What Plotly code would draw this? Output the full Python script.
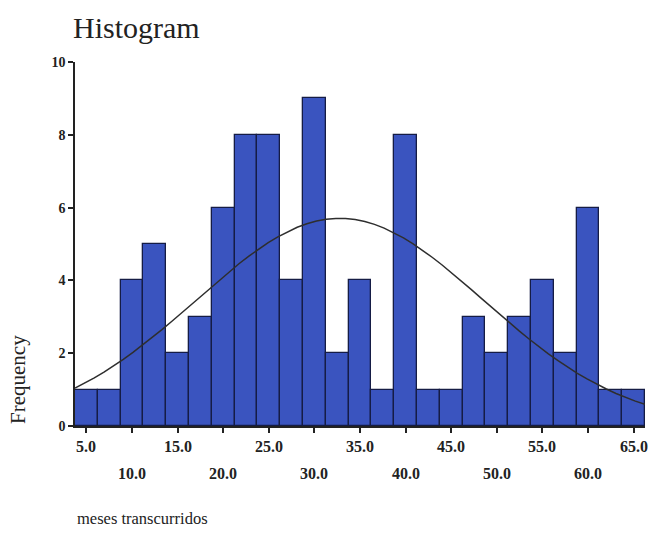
import numpy as np
import plotly.graph_objects as go

# Data
bin_centers = [5.0, 7.5, 10.0, 12.5, 15.0, 17.5, 20.0, 22.5, 25.0, 27.5, 30.0, 32.5,
               35.0, 37.5, 40.0, 42.5, 45.0, 47.5, 50.0, 52.5, 55.0, 57.5, 60.0, 62.5, 65.0]
frequencies = [1, 1, 4, 5, 2, 3, 6, 8, 8, 4, 9, 2,
               4, 1, 8, 1, 1, 3, 2, 3, 4, 2, 6, 1, 1]
bin_width = 2.5
x_ticks_upper = [5.0, 15.0, 25.0, 35.0, 45.0, 55.0, 65.0]
x_ticks_lower = [10.0, 20.0, 30.0, 40.0, 50.0, 60.0]
y_ticks = [0, 2, 4, 6, 8, 10]

# Fitted normal curve (from the histogram's own mean and std)
xc = np.array(bin_centers)
fc = np.array(frequencies)
n = fc.sum()
mean = (xc * fc).sum() / n
sd = np.sqrt((fc * (xc - mean) ** 2).sum() / (n - 1))
xs = np.linspace(xc[0] - bin_width / 2, xc[-1] + bin_width / 2, 60)
ys = n * bin_width / (sd * np.sqrt(2 * np.pi)) * np.exp(-0.5 * ((xs - mean) / sd) ** 2)

FONT = "Liberation Serif, Times New Roman, serif"
TXT = "#222222"

fig = go.Figure()
fig.add_trace(go.Bar(
    x=bin_centers, y=frequencies, width=bin_width,
    marker=dict(color="#3a54bf", line=dict(color="#151c45", width=1.3)),
    showlegend=False, hoverinfo="x+y",
))
fig.add_trace(go.Scatter(
    x=xs, y=ys, mode="lines",
    line=dict(color="#2e2e2e", width=1.5),
    showlegend=False, hoverinfo="skip",
))

x0 = bin_centers[0] - bin_width / 2
x1 = bin_centers[-1] + bin_width / 2

PH = 364  # plot height in px
PW = 570  # plot width in px

fig.update_layout(
    width=652, height=537,
    margin=dict(l=75, r=7, t=62, b=111),
    plot_bgcolor="white", paper_bgcolor="white",
    bargap=0,
    font=dict(family=FONT, color=TXT),
    xaxis=dict(
        range=[x0, x1], showgrid=False, zeroline=False,
        showline=True, linecolor="#222", linewidth=1.5,
        tickmode="array", tickvals=x_ticks_upper + x_ticks_lower,
        ticks="outside", ticklen=5, tickcolor="#222", tickwidth=1.5,
        showticklabels=False,
    ),
    yaxis=dict(
        range=[0, 10], showgrid=False, zeroline=False,
        showline=True, linecolor="#222", linewidth=1.5,
        tickmode="array", tickvals=y_ticks,
        ticktext=[str(v) for v in y_ticks],
        ticks="outside", ticklen=5, tickcolor="#222", tickwidth=1.5,
        tickfont=dict(family=FONT, size=14, color=TXT, weight="bold"),
    ),
)

annotations = []
for v in x_ticks_upper:
    annotations.append(dict(
        x=v, y=-20 / PH, xref="x", yref="paper", text=f"{v:.1f}",
        showarrow=False, xanchor="center", yanchor="middle",
        font=dict(family=FONT, size=16, color=TXT, weight="bold"),
    ))
for v in x_ticks_lower:
    annotations.append(dict(
        x=v, y=-47 / PH, xref="x", yref="paper", text=f"{v:.1f}",
        showarrow=False, xanchor="center", yanchor="middle",
        font=dict(family=FONT, size=16, color=TXT, weight="bold"),
    ))
# Title
annotations.append(dict(
    x=-4 / PW, y=1.0 + 34 / PH, xref="paper", yref="paper", text="Histogram",
    showarrow=False, xanchor="left", yanchor="middle",
    font=dict(family=FONT, size=30, color=TXT),
))
# Y axis title
annotations.append(dict(
    x=-57 / PW, y=(426 - 380) / PH, xref="paper", yref="paper", text="Frequency",
    showarrow=False, xanchor="center", yanchor="middle", textangle=-90,
    font=dict(family=FONT, size=21, color=TXT),
))
# X axis title
annotations.append(dict(
    x=0.0, y=-(518 - 426) / PH, xref="paper", yref="paper", text="meses transcurridos",
    showarrow=False, xanchor="left", yanchor="middle",
    font=dict(family=FONT, size=16.5, color=TXT),
))
fig.update_layout(annotations=annotations)

fig.write_html(
    "out.html",
    config={"displayModeBar": False},
    post_script="document.body.style.margin='0px';document.body.style.overflow='hidden';",
)
